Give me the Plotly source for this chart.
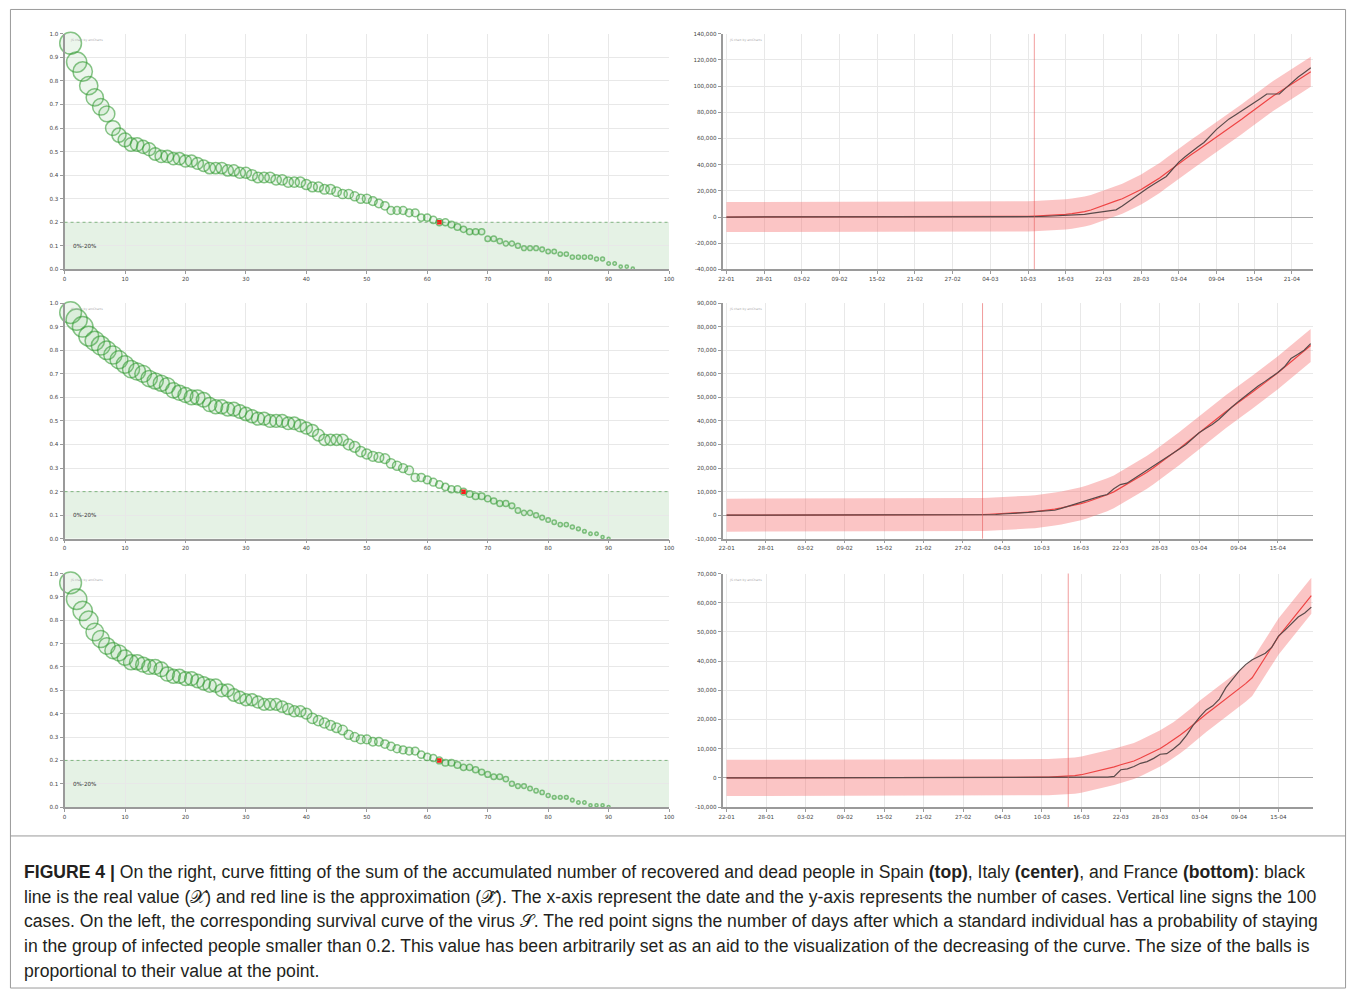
import plotly.graph_objects as go
import pandas as pd

W, H = 1358, 995

# ---------------- survival curves (left column), day 1 .. n ----------------
spain_surv = [
    0.96, 0.88, 0.84, 0.78, 0.73, 0.69, 0.66, 0.60, 0.57, 0.55,
    0.53, 0.53, 0.52, 0.51, 0.49, 0.48, 0.48, 0.47, 0.47, 0.46,
    0.46, 0.45, 0.44, 0.43, 0.43, 0.43, 0.42, 0.42, 0.41, 0.41,
    0.40, 0.39, 0.39, 0.39, 0.38, 0.38, 0.37, 0.37, 0.37, 0.36,
    0.35, 0.35, 0.34, 0.34, 0.33, 0.32, 0.32, 0.31, 0.30, 0.30,
    0.29, 0.28, 0.27, 0.25, 0.25, 0.25, 0.24, 0.24, 0.22, 0.22,
    0.21, 0.20, 0.20, 0.19, 0.18, 0.17, 0.16, 0.16, 0.16, 0.13,
    0.13, 0.12, 0.11, 0.11, 0.10, 0.09, 0.09, 0.09, 0.085, 0.076,
    0.076, 0.065, 0.065, 0.052, 0.052, 0.052, 0.052, 0.044, 0.044, 0.025,
    0.025, 0.012, 0.012, 0.004,
]
italy_surv = [
    0.96, 0.93, 0.90, 0.86, 0.84, 0.82, 0.80, 0.78, 0.76, 0.74,
    0.72, 0.71, 0.70, 0.68, 0.67, 0.66, 0.65, 0.63, 0.62, 0.61,
    0.60, 0.60, 0.59, 0.57, 0.56, 0.56, 0.55, 0.55, 0.54, 0.53,
    0.52, 0.51, 0.51, 0.50, 0.50, 0.50, 0.49, 0.49, 0.48, 0.47,
    0.46, 0.44, 0.42, 0.42, 0.42, 0.42, 0.40, 0.39, 0.37, 0.36,
    0.35, 0.345, 0.34, 0.32, 0.31, 0.30, 0.29, 0.26, 0.26, 0.25,
    0.24, 0.23, 0.22, 0.21, 0.21, 0.20, 0.19, 0.18, 0.18, 0.17,
    0.16, 0.15, 0.15, 0.14, 0.12, 0.11, 0.11, 0.10, 0.09, 0.08,
    0.07, 0.06, 0.06, 0.05, 0.042, 0.032, 0.021, 0.021, 0.007, 0.0,
]
france_surv = [
    0.96, 0.89, 0.84, 0.80, 0.75, 0.72, 0.69, 0.67, 0.66, 0.64,
    0.62, 0.62, 0.61, 0.60, 0.60, 0.59, 0.57, 0.56, 0.56, 0.55,
    0.55, 0.54, 0.53, 0.52, 0.52, 0.50, 0.50, 0.48, 0.47, 0.46,
    0.46, 0.45, 0.44, 0.44, 0.44, 0.43, 0.42, 0.41, 0.41, 0.40,
    0.38, 0.37, 0.36, 0.35, 0.34, 0.33, 0.31, 0.30, 0.29, 0.29,
    0.28, 0.28, 0.27, 0.26, 0.25, 0.245, 0.24, 0.24, 0.225, 0.215,
    0.21, 0.20, 0.19, 0.19, 0.18, 0.17, 0.17, 0.16, 0.15, 0.14,
    0.13, 0.13, 0.12, 0.10, 0.09, 0.09, 0.08, 0.07, 0.063, 0.05,
    0.042, 0.042, 0.042, 0.03, 0.02, 0.02, 0.008, 0.008, 0.008, 0.0,
]
# day on which each curve reaches the 0.2 threshold
threshold_day = {"spain": 62, "italy": 66, "france": 62}

# ---------------- accumulated recovered + dead (right column), thousands ----------------
start_date = "2020-01-22"

spain_real = [
    0, 0, 0, 0, 0, 0, 0, 0, 0, 0, 0, 0, 0, 0, 0, 0, 0, 0, 0, 0,
    0, 0, 0, 0, 0, 0, 0, 0, 0, 0, 0, 0, 0, 0, 0, 0, 0, 0, 0, 0,
    0, 0, 0, 0, 0, 0, 0, 0.05, 0.1, 0.2, 0.4, 0.6, 0.8, 1.1, 1.5, 1.7,
    1.9, 2.0, 2.8, 3.5, 4.0, 4.8, 5.5, 8.5, 12.0, 15.5, 19.0, 22.0, 25.0, 28.0,
    31.0, 36.5, 42.0, 46.0, 50.0, 53.5, 57.0, 62.0, 67.0, 71.0, 75.0, 78.0, 81.0, 84.0,
    87.0, 90.5, 94.0, 94.0, 94.0, 98.5, 103.0, 107.0, 110.5, 114.0,
]
spain_fit = [
    0, 0, 0, 0, 0, 0, 0, 0, 0, 0, 0, 0, 0, 0, 0, 0, 0, 0, 0, 0,
    0, 0, 0, 0, 0, 0, 0, 0, 0, 0, 0.02, 0.02, 0.03, 0.03, 0.04, 0.05, 0.06, 0.07, 0.08, 0.09,
    0.1, 0.1, 0.15, 0.2, 0.25, 0.3, 0.35, 0.4, 0.5, 0.7, 0.9, 1.1, 1.4, 1.7, 2.0, 2.6,
    3.3, 4.2, 5.4, 7.0, 9.0, 10.7, 12.3, 14.0, 16.3, 18.6, 21.0, 24.0, 27.0, 30.0,
    33.7, 37.3, 41.0, 44.3, 47.7, 51.0, 54.3, 57.7, 61.0, 64.3, 67.7, 71.0, 74.7, 78.3,
    82.0, 85.5, 89.0, 92.5, 95.5, 98.5, 102.0, 105.0, 108.0, 111.0,
]
italy_real = [
    0, 0, 0, 0, 0, 0, 0, 0, 0, 0, 0, 0, 0, 0, 0, 0, 0, 0, 0, 0,
    0, 0, 0, 0, 0, 0, 0, 0, 0, 0, 0, 0, 0.01, 0.01, 0.02, 0.03, 0.05, 0.06, 0.07, 0.1,
    0.2, 0.3, 0.5, 0.6, 0.8, 1.0, 1.2, 1.5, 1.7, 1.9, 2.1, 2.9, 3.8, 4.5, 5.3, 6.4,
    7.4, 8.1, 8.8, 11.2, 13.0, 13.6, 15.4, 17.2, 19.0, 20.7, 22.4, 24.3, 26.3, 28.1,
    30.0, 32.5, 35.0, 36.8, 38.5, 40.6, 43.4, 45.9, 48.3, 50.5, 52.8, 54.8, 56.7, 58.6,
    60.6, 63.0, 66.5, 68.2, 70.0, 72.8,
]
italy_fit = [
    0, 0, 0, 0, 0, 0, 0, 0, 0, 0, 0, 0, 0, 0, 0, 0, 0, 0, 0, 0,
    0, 0, 0, 0, 0, 0, 0, 0, 0, 0, 0.05, 0.06, 0.08, 0.1, 0.12, 0.15, 0.18, 0.22, 0.26, 0.3,
    0.4, 0.5, 0.6, 0.7, 0.9, 1.1, 1.3, 1.5, 1.8, 2.2, 2.6, 3.1, 3.6, 4.2, 4.9, 5.7,
    6.6, 7.6, 8.7, 9.9, 11.5, 13.0, 14.6, 16.3, 18.1, 20.0, 22.0, 24.1, 26.2, 28.3,
    30.5, 32.8, 35.0, 37.2, 39.4, 41.6, 43.8, 46.0, 48.0, 50.0, 52.0, 54.0, 56.1, 58.3,
    60.5, 62.8, 65.1, 67.4, 69.7, 72.0,
]
france_real = [
    0, 0, 0, 0, 0, 0, 0, 0, 0, 0, 0, 0, 0, 0, 0, 0, 0, 0, 0, 0,
    0, 0, 0, 0, 0, 0, 0, 0, 0, 0, 0, 0, 0, 0, 0, 0, 0, 0, 0, 0,
    0, 0, 0, 0, 0, 0, 0.05, 0.05, 0.06, 0.07, 0.08, 0.1, 0.12, 0.15, 0.18, 0.2,
    0.2, 0.25, 0.3, 0.5, 2.8, 3.1, 3.9, 5.0, 5.6, 6.7, 8.1, 8.3, 9.9, 11.8,
    14.6, 18.0, 20.8, 23.3, 24.7, 27.0, 30.9, 33.7, 36.6, 38.8, 40.5, 41.6, 42.7, 44.8,
    48.6, 50.6, 52.9, 55.1, 56.5, 58.5,
]
france_fit = [
    0, 0, 0, 0, 0, 0, 0, 0, 0, 0, 0, 0, 0, 0, 0, 0, 0, 0, 0, 0,
    0, 0, 0, 0, 0, 0, 0, 0, 0, 0, 0.05, 0.05, 0.06, 0.06, 0.07, 0.07, 0.08, 0.08, 0.09, 0.09,
    0.1, 0.11, 0.12, 0.14, 0.15, 0.17, 0.19, 0.22, 0.25, 0.3, 0.4, 0.5, 0.6, 0.8, 1.1, 1.6,
    2.2, 2.6, 3.1, 3.8, 4.5, 5.1, 5.8, 6.8, 7.9, 9.0, 10.1, 11.5, 12.9, 14.6,
    16.3, 18.2, 20.2, 21.9, 23.6, 25.3, 27.0, 28.7, 30.4, 32.3, 34.3, 37.8, 41.3, 44.8,
    48.4, 51.2, 54.0, 56.8, 59.6, 62.4,
]
# half width of the confidence band around each fit, thousands
band_half = {"spain": 11.5, "italy": 7.0, "france": 6.2}
# date on which each country passes 100 cases
cases100_date = {"spain": "2020-03-11", "italy": "2020-03-01", "france": "2020-03-14"}

# y-axis ticks of the right column
spain_yticks = [-40000, -20000, 0, 20000, 40000, 60000, 80000, 100000, 120000, 140000]
italy_yticks = [-10000, 0, 10000, 20000, 30000, 40000, 50000, 60000, 70000, 80000, 90000]
france_yticks = [-10000, 0, 10000, 20000, 30000, 40000, 50000, 60000, 70000]

caption_lines = [
    "<b>FIGURE 4 |</b> On the right, curve fitting of the sum of the accumulated number of recovered and dead people in Spain <b>(top)</b>, Italy <b>(center)</b>, and France <b>(bottom)</b>: black",
    "line is the real value (𝒳) and red line is the approximation (𝒳̂). The x-axis represent the date and the y-axis represents the number of cases. Vertical line signs the 100",
    "cases. On the left, the corresponding survival curve of the virus 𝒮. The red point signs the number of days after which a standard individual has a probability of staying",
    "in the group of infected people smaller than 0.2. This value has been arbitrarily set as an aid to the visualization of the decreasing of the curve. The size of the balls is",
    "proportional to their value at the point.",
]

# ---------------- layout helpers ----------------
def px_x(p):
    return p / W


def px_y(p):
    return 1 - p / H


TICK_FONT = dict(family="DejaVu Sans", size=5.6, color="#444444")
AXIS_GRAY = "#9a9a9a"
GRID = "#e8e8e8"
GREEN_LINE = "rgba(52,155,52,0.85)"
GREEN_FILL = "rgba(90,180,90,0.16)"

fig = go.Figure()
layout = dict(
    width=W, height=H, margin=dict(l=0, r=0, t=0, b=0),
    paper_bgcolor="white", plot_bgcolor="white", showlegend=False,
)
shapes, annotations = [], []

rows = [
    ("spain", spain_surv, spain_real, spain_fit, spain_yticks, (31, 268), 93.4),
    ("italy", italy_surv, italy_real, italy_fit, italy_yticks, (302, 539), 89.4),
    ("france", france_surv, france_real, france_fit, france_yticks, (574, 809), 89.3),
]

for i, (name, surv, real, fit, yticks, (ytop, ybot), right_day) in enumerate(rows):
    la = 2 * i + 1  # left axis index
    ra = 2 * i + 2  # right axis index
    lx, ly = ("x" if la == 1 else f"x{la}"), ("y" if la == 1 else f"y{la}")
    rx, ry = f"x{ra}", f"y{ra}"
    ydom = [px_y(ybot), px_y(ytop)]

    # ---- survival curve, ball size proportional to the value ----
    days = list(range(1, len(surv) + 1))
    sizes = [3 + 19.5 * v for v in surv]
    fig.add_trace(go.Scatter(
        x=days, y=surv, mode="markers", xaxis=lx, yaxis=ly, cliponaxis=False,
        marker=dict(size=sizes, color=GREEN_FILL,
                    line=dict(color=GREEN_LINE, width=1.5)),
    ))
    td = threshold_day[name]
    fig.add_trace(go.Scatter(
        x=[td], y=[surv[td - 1]], mode="markers", xaxis=lx, yaxis=ly,
        marker=dict(size=4.5, color="#ff1a1a", symbol="square"),
    ))

    layout["xaxis" if la == 1 else f"xaxis{la}"] = dict(
        domain=[px_x(61), px_x(670)], anchor=ly, range=[0, 100],
        tickvals=list(range(0, 101, 10)), tickfont=TICK_FONT,
        showgrid=True, gridcolor=GRID, zeroline=False,
        showline=True, linecolor=AXIS_GRAY, linewidth=1.5,
        ticks="outside", ticklen=3, tickcolor=AXIS_GRAY,
    )
    layout["yaxis" if la == 1 else f"yaxis{la}"] = dict(
        domain=ydom, anchor=lx, range=[0, 1],
        tickvals=[k / 10 for k in range(11)], tickformat=".1f", tickfont=TICK_FONT,
        showgrid=True, gridcolor=GRID, zeroline=False,
        showline=True, linecolor=AXIS_GRAY, linewidth=2,
        ticks="outside", ticklen=3, tickcolor=AXIS_GRAY,
    )
    # 0%-20% band
    shapes.append(dict(type="rect", xref=lx, yref=ly, x0=0, x1=100, y0=0, y1=0.2,
                       fillcolor="rgba(110,185,110,0.18)", line=dict(width=0), layer="below"))
    shapes.append(dict(type="line", xref=lx, yref=ly, x0=0, x1=100, y0=0.2, y1=0.2,
                       line=dict(color="rgba(80,160,80,0.7)", width=1, dash="dot")))
    annotations.append(dict(xref=lx, yref=ly, x=1, y=0.1, text="0%-20%", showarrow=False,
                            xanchor="left", yanchor="middle",
                            font=dict(family="DejaVu Sans", size=5.6, color="#333333")))
    annotations.append(dict(xref="paper", yref="paper", x=px_x(64), y=px_y(ytop + 2),
                            text="JS chart by amCharts", showarrow=False,
                            xanchor="left", yanchor="top",
                            font=dict(family="DejaVu Sans", size=3, color="#aaaaaa")))

    # ---- accumulated cases with fitted curve ----
    dates = pd.date_range(start_date, periods=len(real), freq="D")
    real_v = [v * 1000 for v in real]
    fit_v = [v * 1000 for v in fit]
    hw = band_half[name] * 1000
    fig.add_trace(go.Scatter(
        x=dates, y=[v + hw for v in fit_v], mode="lines", xaxis=rx, yaxis=ry,
        line=dict(width=0), hoverinfo="skip",
    ))
    fig.add_trace(go.Scatter(
        x=dates, y=[v - hw for v in fit_v], mode="lines", xaxis=rx, yaxis=ry,
        line=dict(width=0), fill="tonexty", fillcolor="rgba(245,110,110,0.4)",
        hoverinfo="skip",
    ))
    fig.add_trace(go.Scatter(
        x=dates, y=fit_v, mode="lines", xaxis=rx, yaxis=ry,
        line=dict(color="#ee4444", width=1.2),
    ))
    fig.add_trace(go.Scatter(
        x=dates, y=real_v, mode="lines", xaxis=rx, yaxis=ry,
        line=dict(color="#5a4a4a", width=1.2),
    ))

    t0 = pd.Timestamp(start_date)
    layout[f"xaxis{ra}"] = dict(
        domain=[px_x(724), px_x(1319)], anchor=ry, type="date",
        range=[t0 - pd.Timedelta(days=0.6), t0 + pd.Timedelta(days=right_day)],
        tick0=start_date, dtick=6 * 86400000, tickformat="%d-%m", tickfont=TICK_FONT,
        showgrid=True, gridcolor=GRID, zeroline=False,
        showline=True, linecolor=AXIS_GRAY, linewidth=1.5,
        ticks="outside", ticklen=3, tickcolor=AXIS_GRAY,
    )
    layout[f"yaxis{ra}"] = dict(
        domain=ydom, anchor=rx, range=[yticks[0], yticks[-1]],
        tickvals=yticks, ticktext=[f"{v:,}" for v in yticks], tickfont=TICK_FONT,
        showgrid=True, gridcolor=GRID,
        zeroline=True, zerolinecolor="#a8a8a8", zerolinewidth=1.2,
        showline=True, linecolor=AXIS_GRAY, linewidth=2,
        ticks="outside", ticklen=3, tickcolor=AXIS_GRAY,
    )
    shapes.append(dict(type="line", xref=rx, yref=f"{ry} domain",
                       x0=cases100_date[name], x1=cases100_date[name], y0=0, y1=1,
                       line=dict(color="rgba(232,90,90,0.6)", width=1)))
    annotations.append(dict(xref="paper", yref="paper", x=px_x(728), y=px_y(ytop + 2),
                            text="JS chart by amCharts", showarrow=False,
                            xanchor="left", yanchor="top",
                            font=dict(family="DejaVu Sans", size=3, color="#aaaaaa")))

# ---------------- frame and caption ----------------
shapes.append(dict(type="rect", xref="paper", yref="paper",
                   x0=px_x(6.5), x1=px_x(1351.5), y0=px_y(991), y1=px_y(6.5),
                   line=dict(color="#9a9a9a", width=1), fillcolor="rgba(0,0,0,0)"))
shapes.append(dict(type="line", xref="paper", yref="paper",
                   x0=px_x(6.5), x1=px_x(1351.5), y0=px_y(838), y1=px_y(838),
                   line=dict(color="#9a9a9a", width=1)))

for k, line in enumerate(caption_lines):
    annotations.append(dict(
        xref="paper", yref="paper", x=px_x(18), y=px_y(874 + 25 * k),
        text=line, showarrow=False, xanchor="left", yanchor="middle", align="left",
        font=dict(family="Liberation Sans", size=17.6, color="#231f20"),
    ))

layout["shapes"] = shapes
layout["annotations"] = annotations
fig.update_layout(**layout)
fig.write_html("out.html")
